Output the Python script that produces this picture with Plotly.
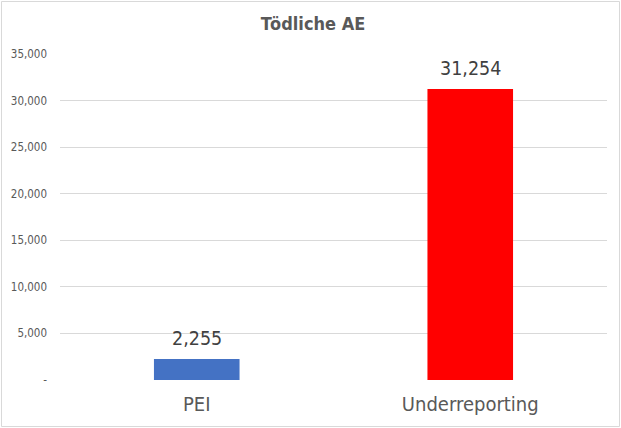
import plotly.graph_objects as go

categories = ["PEI", "Underreporting"]
values = [2255, 31254]
colors = ["#4472C4", "#FF0000"]
labels = ["2,255", "31,254"]
tick_vals = [0, 5000, 10000, 15000, 20000, 25000, 30000, 35000]
tick_text = ["-", "5,000", "10,000", "15,000", "20,000", "25,000", "30,000", "35,000"]

FONT = "DejaVu Sans Condensed, DejaVu Sans, sans-serif"

fig = go.Figure()
fig.add_trace(go.Bar(x=categories, y=values, marker=dict(color=colors, line=dict(width=0)),
                     width=0.313, hoverinfo="skip"))
for c, v, t in zip(categories, values, labels):
    fig.add_annotation(x=c, y=v, text=t, showarrow=False, yanchor="bottom", yshift=7,
                       font=dict(size=19.5, color="#404040", family=FONT))

L, R, T, B = 60, 14, 54, 48
W, H = 621, 428
pw, ph = W - L - R, H - T - B
fig.add_shape(type="rect", xref="paper", yref="paper",
              x0=(1.5 - L) / pw, x1=(619.5 - L) / pw,
              y0=(H - B - 426.5) / ph, y1=(H - B - 1.5) / ph,
              line=dict(color="#d9d9d9", width=1), fillcolor="rgba(0,0,0,0)", layer="below")

fig.update_layout(
    width=W, height=H,
    margin=dict(l=L, r=R, t=T, b=B),
    paper_bgcolor="white", plot_bgcolor="white",
    showlegend=False,
    font=dict(family=FONT, color="#595959"),
    title=dict(text="<b>Tödliche AE</b>", x=(313 - L) / pw, xref="paper", xanchor="center",
               y=1 - 24 / H, yanchor="middle",
               font=dict(size=18, color="#595959", family=FONT)),
    xaxis=dict(showgrid=False, showline=False, ticks="", ticklabelstandoff=10,
               tickfont=dict(size=20, color="#595959")),
    yaxis=dict(range=[0, 35000], tickvals=tick_vals, ticktext=tick_text, showgrid=True,
               gridcolor="#d9d9d9", gridwidth=1, zeroline=False, showline=False, ticks="",
               ticklabelstandoff=12,
               tickfont=dict(size=11.5, color="#595959")),
)

fig.write_html("out.html", config={"displayModeBar": False},
               post_script="document.body.style.margin='0px';document.body.style.overflow='hidden';")
